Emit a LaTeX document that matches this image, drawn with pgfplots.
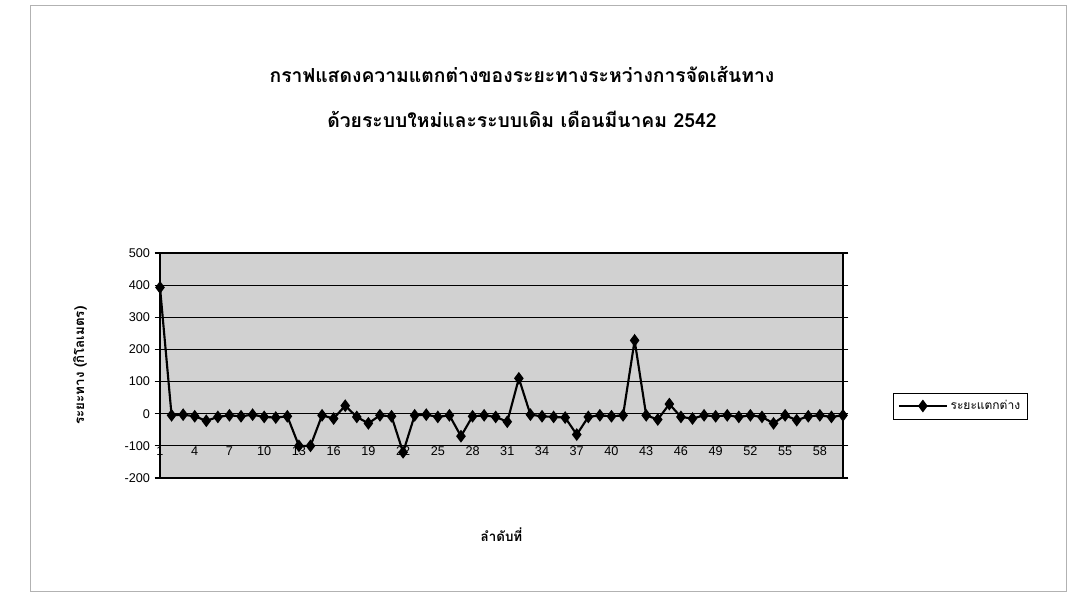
\documentclass[border=0pt]{standalone}
\usepackage{fontspec}
\usepackage{pgfplots}
\usepackage{pgfplotstable}
\pgfplotsset{compat=1.18}
\setmainfont{Liberation Sans}
\newfontfamily\thaifont[Script=Thai]{Loma}

% difference in distance, new vs old routing, per trip
\pgfplotstableread{
idx val
1 393
2 -5
3 -3
4 -8
5 -22
6 -10
7 -5
8 -8
9 -3
10 -10
11 -12
12 -8
13 -100
14 -100
15 -5
16 -15
17 25
18 -10
19 -30
20 -5
21 -8
22 -120
23 -5
24 -3
25 -10
26 -5
27 -70
28 -8
29 -5
30 -10
31 -25
32 110
33 -3
34 -8
35 -10
36 -12
37 -65
38 -10
39 -5
40 -8
41 -5
42 228
43 -5
44 -18
45 30
46 -10
47 -15
48 -5
49 -8
50 -5
51 -10
52 -5
53 -10
54 -30
55 -5
56 -20
57 -8
58 -5
59 -10
60 -5
}\difftable

\begin{document}
\begin{tikzpicture}
\useasboundingbox (0,0) rectangle (802.5pt,446.25pt);
\draw[gray!60, line width=0.6pt] (22.5pt,3pt) rectangle (799.5pt,442.5pt);
\node[align=center, font=\thaifont\bfseries\fontsize{14.5}{34}\selectfont] at (391.5pt,373.5pt)
  {กราฟแสดงความแตกต่างของระยะทางระหว่างการจัดเส้นทาง\\ด้วยระบบใหม่และระบบเดิม เดือนมีนาคม 2542};
\begin{axis}[
  width=512.25pt, height=168.75pt, scale only axis,
  at={(120pt,87.75pt)}, anchor=south west,
  xmin=1, xmax=60, ymin=-200, ymax=500,
  ytick={-200,-100,...,500},
  xtick={1,4,...,58},
  ymajorgrids,
  major grid style={black, line width=0.9pt},
  axis background/.style={fill=black!18},
  axis line style={black, line width=0.9pt},
  xtick style={draw=none},
  ytick style={black, line width=0.9pt},
  ytick align=outside, major tick length=4pt,
  ticklabel style={font=\fontsize{9.5}{11}\selectfont},
  /pgf/number format/assume math mode=true,
  xticklabel style={yshift=27pt},
  ylabel={\thaifont\bfseries ระยะทาง (กิโลเมตร)},
  xlabel={\thaifont\bfseries ลำดับที่},
  label style={font=\fontsize{10}{12}\selectfont},
  every axis y label/.style={at={(axis description cs:-0.117,0.5)}, rotate=90, anchor=center},
  every axis x label/.style={at={(axis description cs:0.5,-0.253)}, anchor=center},
  legend style={at={(1.073,0.32)}, anchor=west, draw=black, fill=white,
    font=\thaifont\fontsize{9}{10}\selectfont, inner sep=3.5pt},
  legend image code/.code={\draw[mark repeat=2,mark phase=2,#1] plot coordinates {(0pt,0pt) (18pt,0pt) (36pt,0pt)};},
]
\addplot[black, line width=1.6pt, mark=diamond*, mark size=3.5pt] table[x=idx,y=val]{\difftable};
\addlegendentry{ระยะแตกต่าง}
\end{axis}
\end{tikzpicture}
\end{document}
